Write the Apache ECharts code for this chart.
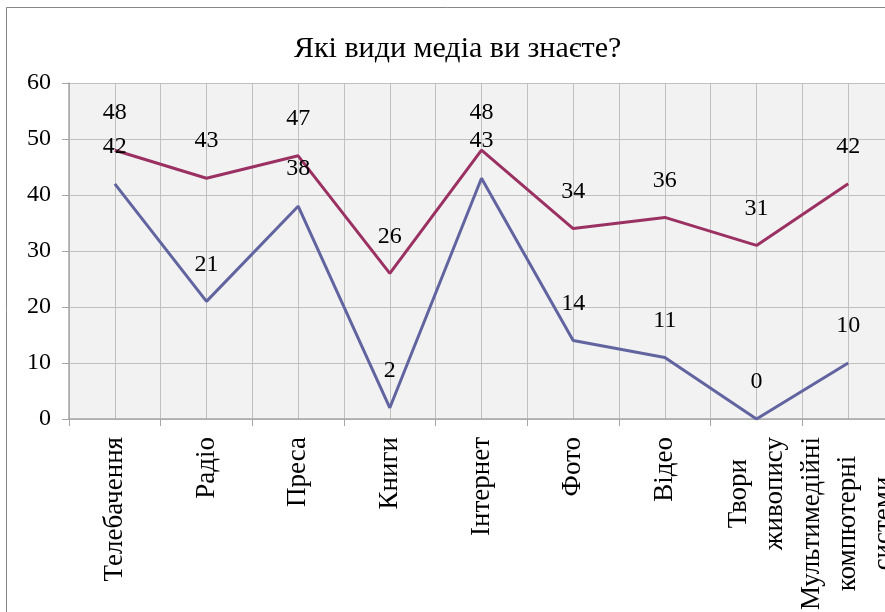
<!DOCTYPE html>
<html>
<head>
<meta charset="utf-8">
<script src="https://cdn.jsdelivr.net/npm/echarts@6/dist/echarts.min.js"></script>
<style>
  html, body { margin: 0; padding: 0; background: #fff; }
  #chart { width: 885px; height: 612px; }
</style>
</head>
<body>
<div id="chart"></div>
<script>
const titleText = 'Які види медіа ви знаєте?';
const categories = ['Телебачення', 'Радіо', 'Преса', 'Книги', 'Інтернет', 'Фото', 'Відео', 'Твори\nживопису', 'Мультимедійні\nкомпютерні\nсистеми'];
const seriesBlue = [42, 21, 38, 2, 43, 14, 11, 0, 10];
const seriesRed = [48, 43, 47, 26, 48, 34, 36, 31, 42];
const yTicks = [0, 10, 20, 30, 40, 50, 60];

const FONT = '"Liberation Serif", "Times New Roman", serif';

const chart = echarts.init(document.getElementById('chart'));
chart.setOption({
    animation: false,
    backgroundColor: '#fff',
    textStyle: { fontFamily: FONT },
    title: {
        text: titleText,
        left: 289,
        top: 29,
        textStyle: { fontFamily: FONT, fontSize: 30, fontWeight: 'normal', color: '#000' }
    },
    graphic: [{
        type: 'rect',
        shape: { x: 6.5, y: 7.5, width: 1000, height: 1000 },
        style: { fill: 'none', stroke: '#868686', lineWidth: 1 },
        silent: true
    }],
    grid: {
        left: 69, top: 83, right: -9, bottom: 193,
        outerBoundsMode: 'none',
        containLabel: false,
        show: true, backgroundColor: '#f2f2f2', borderWidth: 0
    },
    xAxis: [{
        type: 'category',
        data: categories,
        boundaryGap: true,
        axisLine: { lineStyle: { color: '#a6a6a6', width: 1.5 } },
        axisTick: { show: true, length: 7, lineStyle: { color: '#a6a6a6' } },
        splitLine: { show: false },
        axisLabel: {
            rotate: 90,
            margin: 18,
            color: '#000',
            fontSize: 27,
            fontFamily: FONT,
            interval: 0,
            formatter: (v) => v.indexOf('\n') < 0 ? v : v.split('\n').map(s => '{c|' + s + '}').join('\n'),
            rich: {
                c: { fontSize: 27, fontFamily: FONT, color: '#000', align: 'center', lineHeight: 36 }
            }
        }
    }, {
        type: 'value',
        min: 0,
        max: 18,
        interval: 1,
        show: true,
        position: 'top',
        axisLine: { show: false },
        axisTick: { show: false },
        axisLabel: { show: false },
        splitLine: { show: true, lineStyle: { color: '#c0c0c0', width: 1 } }
    }],
    yAxis: {
        type: 'value',
        min: 0,
        max: 60,
        interval: 10,
        axisLine: { show: true, lineStyle: { color: '#a6a6a6', width: 1.5 } },
        axisTick: { show: true, length: 7, lineStyle: { color: '#a6a6a6' } },
        axisLabel: {
            margin: 18,
            color: '#000',
            fontSize: 24,
            fontFamily: FONT,
            formatter: (v) => yTicks.includes(v) ? String(v) : ''
        },
        splitLine: { show: true, lineStyle: { color: '#c0c0c0', width: 1 } }
    },
    series: [{
        type: 'line',
        data: seriesBlue,
        symbol: 'circle',
        symbolSize: 0,
        lineStyle: { color: '#6264a0', width: 3 },
        itemStyle: { color: '#6264a0' },
        label: { show: true, position: 'top', distance: 25, color: '#000', fontSize: 24, fontFamily: FONT }
    }, {
        type: 'line',
        data: seriesRed,
        symbol: 'circle',
        symbolSize: 0,
        lineStyle: { color: '#9b3162', width: 3 },
        itemStyle: { color: '#9b3162' },
        label: { show: true, position: 'top', distance: 25, color: '#000', fontSize: 24, fontFamily: FONT }
    }]
});
</script>
</body>
</html>
